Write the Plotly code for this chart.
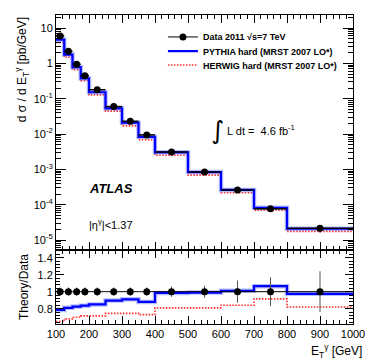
import plotly.graph_objects as go

# bin edges of E_T^gamma [GeV]
bin_edges = [100, 125, 150, 175, 200, 250, 300, 350, 400, 500, 600, 700, 800, 1000]
bin_centres = [112.5, 137.5, 162.5, 187.5, 225, 275, 325, 375, 450, 550, 650, 750, 900]

# measured cross section dsigma/dEt [pb/GeV]
data_xsec = [6.0, 2.2, 0.95, 0.45, 0.18, 0.06, 0.023, 0.0095, 0.0031, 0.00085, 0.00026, 7.7e-5, 2.15e-5]
# relative uncertainty on data
data_relerr = [0.05, 0.05, 0.05, 0.05, 0.05, 0.05, 0.05, 0.05, 0.06, 0.07, 0.13, 0.17, 0.24]

# theory / data ratios per bin
ratio_pythia = [0.785, 0.81, 0.825, 0.835, 0.85, 0.895, 0.91, 0.88, 0.985, 0.99, 1.01, 1.065, 0.975]
ratio_herwig = [0.65, 0.68, 0.70, 0.715, 0.715, 0.745, 0.745, 0.73, 0.81, 0.81, 0.84, 0.915, 0.82]

xerr = [(bin_edges[i + 1] - bin_edges[i]) / 2 for i in range(len(bin_centres))]
pythia_xsec = [d * r for d, r in zip(data_xsec, ratio_pythia)]
herwig_xsec = [d * r for d, r in zip(data_xsec, ratio_herwig)]
data_err = [d * e for d, e in zip(data_xsec, data_relerr)]


def step(vals):
    return list(vals) + [vals[-1]]


FONT = "Liberation Sans, Arial, Helvetica, sans-serif"
BLUE = "#0000ff"
RED = "#ff2a2a"
RED_DOTS = "1.5px,1.5px"

fig = go.Figure()

# ---- top panel
fig.add_trace(go.Scatter(x=bin_edges, y=step(herwig_xsec), mode="lines", line_shape="hv",
                         line=dict(color=RED, width=1.6, dash=RED_DOTS),
                         xaxis="x2", yaxis="y2", showlegend=False))
fig.add_trace(go.Scatter(x=bin_edges, y=step(pythia_xsec), mode="lines", line_shape="hv",
                         line=dict(color="rgba(90,110,255,0.45)", width=4.5),
                         xaxis="x2", yaxis="y2", showlegend=False))
fig.add_trace(go.Scatter(x=bin_edges, y=step(pythia_xsec), mode="lines", line_shape="hv",
                         line=dict(color=BLUE, width=2.2),
                         xaxis="x2", yaxis="y2", showlegend=False))
fig.add_trace(go.Scatter(x=bin_centres, y=data_xsec, mode="markers",
                         marker=dict(color="black", size=7),
                         error_x=dict(type="data", array=xerr, color="black", thickness=1.5, width=0),
                         error_y=dict(type="data", array=data_err, color="black", thickness=1.2, width=0),
                         xaxis="x2", yaxis="y2", showlegend=False))

# ---- ratio panel
fig.add_trace(go.Scatter(x=bin_edges, y=step(ratio_herwig), mode="lines", line_shape="hv",
                         line=dict(color=RED, width=1.6, dash=RED_DOTS),
                         xaxis="x", yaxis="y", showlegend=False))
fig.add_trace(go.Scatter(x=bin_edges, y=step(ratio_pythia), mode="lines", line_shape="hv",
                         line=dict(color="rgba(90,110,255,0.45)", width=4.5),
                         xaxis="x", yaxis="y", showlegend=False))
fig.add_trace(go.Scatter(x=bin_edges, y=step(ratio_pythia), mode="lines", line_shape="hv",
                         line=dict(color=BLUE, width=2.2),
                         xaxis="x", yaxis="y", showlegend=False))
fig.add_trace(go.Scatter(x=bin_centres, y=[1.0] * len(bin_centres), mode="markers",
                         marker=dict(color="black", size=7),
                         error_x=dict(type="data", array=xerr, color="black", thickness=1, width=0),
                         error_y=dict(type="data", array=data_relerr, color="#555555", thickness=1, width=0),
                         xaxis="x", yaxis="y", showlegend=False))

# legend entries, one legend box per row so the rows sit close together
fig.add_trace(go.Scatter(x=[None], y=[None], mode="lines+markers", name="Data 2011 \u221as=7 TeV",
                         line=dict(color="black", width=1), marker=dict(color="black", size=7),
                         xaxis="x2", yaxis="y2", legend="legend"))
fig.add_trace(go.Scatter(x=[None], y=[None], mode="lines", name="PYTHIA hard (MRST 2007 LO*)",
                         line=dict(color=BLUE, width=2.2), xaxis="x2", yaxis="y2", legend="legend2"))
fig.add_trace(go.Scatter(x=[None], y=[None], mode="lines", name="HERWIG hard (MRST 2007 LO*)",
                         line=dict(color=RED, width=1.6, dash=RED_DOTS), xaxis="x2", yaxis="y2",
                         legend="legend3"))

# minor ticks for log axis
log_minor = [m * 10.0 ** e for e in range(-6, 2) for m in range(2, 10)]

axis_common = dict(showline=True, linecolor="black", linewidth=1, mirror="allticks",
                   ticks="inside", tickcolor="black", showgrid=False, zeroline=False,
                   tickfont=dict(family=FONT, size=11, color="black"))

legend_common = dict(xanchor="left", yanchor="middle", bgcolor="rgba(0,0,0,0)", itemwidth=30,
                     font=dict(family=FONT, size=9, weight="bold", color="black"))

split = 74 / 309
# page body has an 8px margin, so the figure is 8px smaller than the window
fig.update_layout(
    width=366, height=351,
    margin=dict(l=48, r=21, t=7, b=35),
    paper_bgcolor="white", plot_bgcolor="white",
    font=dict(family=FONT, color="black"),
    xaxis=dict(axis_common, domain=[0, 1], anchor="y", range=[100, 1000], dtick=100, ticklen=8,
               minor=dict(dtick=20, ticks="inside", ticklen=4, tickcolor="black")),
    yaxis=dict(axis_common, domain=[0, split], anchor="x", range=[0.62, 1.49], dtick=0.2, ticklen=8,
               minor=dict(dtick=0.04, ticks="inside", ticklen=4, tickcolor="black"),
               title=dict(text="Theory/Data", font=dict(family=FONT, size=12), standoff=6)),
    xaxis2=dict(axis_common, domain=[0, 1], anchor="y2", matches="x", range=[100, 1000], dtick=100,
                ticklen=8, showticklabels=False,
                minor=dict(dtick=20, ticks="inside", ticklen=4, tickcolor="black")),
    yaxis2=dict(axis_common, domain=[split, 1], anchor="x2", type="log", range=[-5.28, 1.37],
                tickvals=[1e-5, 1e-4, 1e-3, 1e-2, 1e-1, 1, 10],
                ticktext=["10<sup>-5</sup>", "10<sup>-4</sup>", "10<sup>-3</sup>", "10<sup>-2</sup>",
                          "10<sup>-1</sup>", "1", "10"],
                ticklen=10,
                minor=dict(tickvals=log_minor, ticks="inside", ticklen=5, tickcolor="black")),
    legend=dict(legend_common, x=0.36, y=0.929),
    legend2=dict(legend_common, x=0.36, y=0.883),
    legend3=dict(legend_common, x=0.36, y=0.838),
)

fig.add_annotation(x=-0.115, y=1.0, xref="paper", yref="paper", textangle=-90,
                   xanchor="center", yanchor="top", showarrow=False,
                   text="d \u03c3 / d E<sub>T</sub><sup>\u03b3</sup> [pb/GeV]",
                   font=dict(family=FONT, size=12))
fig.add_annotation(x=1.037, y=-0.087, xref="paper", yref="paper", xanchor="right", yanchor="middle",
                   showarrow=False, text="E<sub>T</sub><sup>\u03b3</sup> [GeV]",
                   font=dict(family=FONT, size=12))
fig.add_annotation(x=0.104, y=0.44, xref="paper", yref="paper", xanchor="left", yanchor="middle",
                   showarrow=False, text="<b><i>ATLAS</i></b>", font=dict(family=FONT, size=13))
fig.add_annotation(x=0.104, y=0.325, xref="paper", yref="paper", xanchor="left", yanchor="middle",
                   showarrow=False, text="|\u03b7<sup>\u03b3</sup>|&lt;1.37", font=dict(family=FONT, size=11))
fig.add_annotation(x=0.545, y=0.625, xref="paper", yref="paper", xanchor="center", yanchor="middle",
                   showarrow=False, text="\u222b", font=dict(family="DejaVu Sans", size=25))
fig.add_annotation(x=0.569, y=0.628, xref="paper", yref="paper", xanchor="left", yanchor="middle",
                   showarrow=False, text="L dt =  4.6 fb<sup>-1</sup>", font=dict(family=FONT, size=11))

fig.write_html("out.html")
